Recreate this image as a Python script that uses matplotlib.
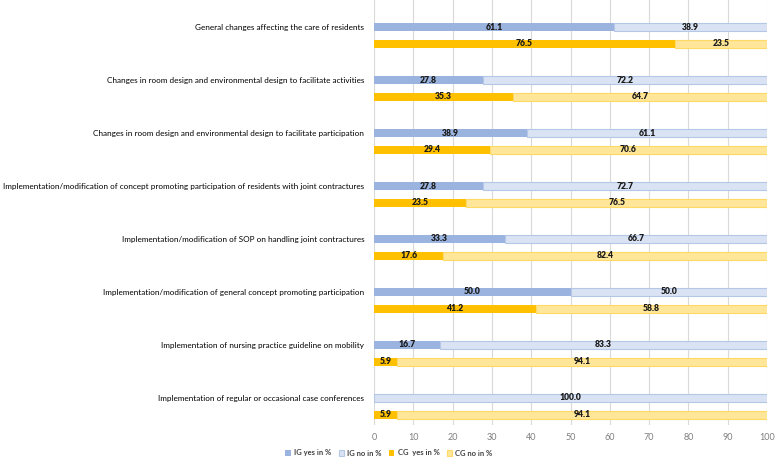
import matplotlib
matplotlib.use("Agg")
import matplotlib.pyplot as plt
import numpy as np

categories = [
    "General changes affecting the care of residents",
    "Changes in room design and environmental design to facilitate activities",
    "Changes in room design and environmental design to facilitate participation",
    "Implementation/modification of concept promoting participation of residents with joint contractures",
    "Implementation/modification of SOP on handling joint contractures",
    "Implementation/modification of general concept promoting participation",
    "Implementation of nursing practice guideline on mobility",
    "Implementation of regular or occasional case conferences",
]
ig_yes = [61.1, 27.8, 38.9, 27.8, 33.3, 50.0, 16.7, 0.0]
ig_no = [38.9, 72.2, 61.1, 72.7, 66.7, 50.0, 83.3, 100.0]
cg_yes = [76.5, 35.3, 29.4, 23.5, 17.6, 41.2, 5.9, 5.9]
cg_no = [23.5, 64.7, 70.6, 76.5, 82.4, 58.8, 94.1, 94.1]
series_labels = ["IG yes in %", "IG no in %", "CG  yes in %", "CG no in %"]
xticks = [0, 10, 20, 30, 40, 50, 60, 70, 80, 90, 100]

plt.rcParams['font.family'] = ['Lato', 'DejaVu Sans']

fig = plt.figure(figsize=(7.78, 4.57), dpi=100)
ax = fig.add_axes([374/778, 1 - 425/457, (767-374)/778, 425/457])

y = np.arange(len(categories))
off = 0.16
h = 0.16
c_igy, c_ign, c_ign_e = "#9bb3df", "#dae3f3", "#b4c7e7"
c_cgy, c_cgn, c_cgn_e = "#ffc000", "#ffe699", "#ffd966"

b1 = ax.barh(y - off, ig_yes, height=h, color=c_igy, label=series_labels[0], zorder=3)
b2 = ax.barh(y - off, ig_no, left=ig_yes, height=h, color=c_ign, edgecolor=c_ign_e, linewidth=0.8, label=series_labels[1], zorder=3)
b3 = ax.barh(y + off, cg_yes, height=h, color=c_cgy, label=series_labels[2], zorder=3)
b4 = ax.barh(y + off, cg_no, left=cg_yes, height=h, color=c_cgn, edgecolor=c_cgn_e, linewidth=0.8, label=series_labels[3], zorder=3)

for bars, vals in [(b1, ig_yes), (b2, ig_no), (b3, cg_yes), (b4, cg_no)]:
    for rect, v in zip(bars, vals):
        if v <= 0:
            continue
        x0 = rect.get_x()
        w = min(rect.get_width(), 100 - x0)
        ax.text(x0 + w / 2, rect.get_y() + rect.get_height() / 2, f"{v:.1f}",
                ha="center", va="center", fontsize=6.2, fontweight="heavy",
                color="#1a1a1a", zorder=4)

ax.set_xlim(0, 100)
ax.set_ylim(7.35, -0.67)
ax.set_xticks(xticks)
ax.tick_params(axis="x", length=0, labelsize=6.5, labelcolor="#7f7f7f", pad=6)
ax.set_yticks(y - off)
ax.set_yticklabels(categories, fontsize=5.9, color="#000000")
ax.tick_params(axis="y", length=0, pad=7)
ax.grid(axis="x", color="#d9d9d9", linewidth=0.8, zorder=0)
for s in ax.spines.values():
    s.set_visible(False)

handles = [b1, b2, b3, b4]
leg = fig.legend(handles, series_labels, loc="center", bbox_to_anchor=(0.5, 1 - 453/457),
                 ncol=4, frameon=False, fontsize=5.5, handlelength=0.7, handleheight=0.7,
                 handletextpad=0.4, columnspacing=1.0)
for t in leg.get_texts():
    t.set_fontweight("bold")
    t.set_color("#404040")

fig.savefig("out.png", dpi=100)
